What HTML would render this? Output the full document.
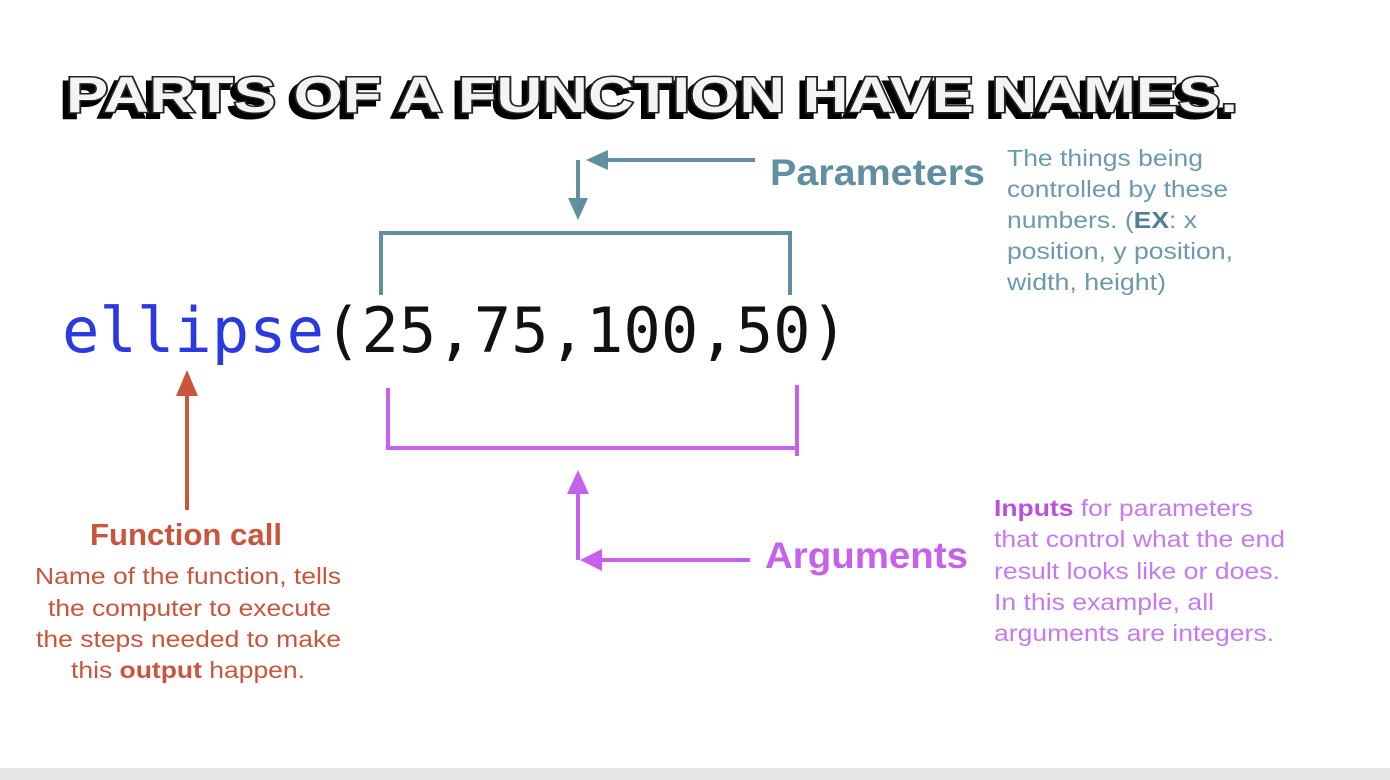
<!DOCTYPE html>
<html><head><meta charset="utf-8"><style>
body{margin:0;background:#fff;}
svg{display:block}
</style></head><body>
<svg width="1390" height="780" viewBox="0 0 1390 780" xmlns="http://www.w3.org/2000/svg" font-family="Liberation Sans, sans-serif">
<rect width="1390" height="780" fill="#fff"/>
<rect x="0" y="768" width="1390" height="12" fill="#e6e6e6"/>
<!-- title -->
<text x="66" y="112" font-size="50" font-weight="bold" textLength="1172" lengthAdjust="spacingAndGlyphs" fill="#000" stroke="#000" stroke-width="4" transform="translate(-5,5)">PARTS OF A FUNCTION HAVE NAMES.</text>
<text x="66" y="112" font-size="50" font-weight="bold" textLength="1172" lengthAdjust="spacingAndGlyphs" fill="#f4f4f4" stroke="#222" stroke-width="3" paint-order="stroke">PARTS OF A FUNCTION HAVE NAMES.</text>
<!-- code -->
<text x="62" y="352" font-family="DejaVu Sans Mono, monospace" font-size="62" textLength="786" lengthAdjust="spacingAndGlyphs"><tspan fill="#2a3ae0">ellipse</tspan><tspan fill="#111">(25,75,100,50)</tspan></text>
<!-- parameters -->
<g stroke="#5f8fa0" stroke-width="4" fill="none">
<polyline points="381,295 381,233 790,233 790,295"/>
<line x1="755" y1="160" x2="600" y2="160"/>
<line x1="578" y1="160" x2="578" y2="200"/>
</g>
<polygon points="586,160 608,150 608,170" fill="#5f8fa0"/>
<polygon points="568,198 588,198 578,220" fill="#5f8fa0"/>
<text x="770" y="185" font-size="37" font-weight="bold" fill="#5f8fa0" textLength="215" lengthAdjust="spacingAndGlyphs">Parameters</text>
<g font-size="23" fill="#6b9aac" lengthAdjust="spacingAndGlyphs">
<text x="1007" y="166" textLength="196" lengthAdjust="spacingAndGlyphs">The things being</text>
<text x="1007" y="197" textLength="221" lengthAdjust="spacingAndGlyphs">controlled by these</text>
<text x="1007" y="228" textLength="190" lengthAdjust="spacingAndGlyphs">numbers. (<tspan font-weight="bold" fill="#4f7f90">EX</tspan>: x</text>
<text x="1007" y="259" textLength="226" lengthAdjust="spacingAndGlyphs">position, y position,</text>
<text x="1007" y="290" textLength="159" lengthAdjust="spacingAndGlyphs">width, height)</text>
</g>
<!-- arguments -->
<g stroke="#c760ea" stroke-width="4" fill="none">
<polyline points="388,388 388,448 797,448"/>
<line x1="797" y1="385" x2="797" y2="456"/>
<line x1="578" y1="560" x2="578" y2="490"/>
<line x1="750" y1="560" x2="596" y2="560"/>
</g>
<polygon points="578,470 567,494 589,494" fill="#c760ea"/>
<polygon points="580,560 602,549 602,571" fill="#c760ea"/>
<text x="765" y="568" font-size="37" font-weight="bold" fill="#c760ea" textLength="203" lengthAdjust="spacingAndGlyphs">Arguments</text>
<g font-size="23" fill="#c77aed">
<text x="994" y="516" textLength="259" lengthAdjust="spacingAndGlyphs"><tspan font-weight="bold" fill="#b850e0">Inputs</tspan> for parameters</text>
<text x="994" y="547" textLength="291" lengthAdjust="spacingAndGlyphs">that control what the end</text>
<text x="994" y="579" textLength="286" lengthAdjust="spacingAndGlyphs">result looks like or does.</text>
<text x="994" y="610" textLength="220" lengthAdjust="spacingAndGlyphs">In this example, all</text>
<text x="994" y="641" textLength="280" lengthAdjust="spacingAndGlyphs">arguments are integers.</text>
</g>
<!-- function call -->
<line x1="187" y1="510" x2="187" y2="392" stroke="#c8553c" stroke-width="4"/>
<polygon points="187,370 176,396 198,396" fill="#c8553c"/>
<text x="90" y="545" font-size="31" font-weight="bold" fill="#c8553c" textLength="192" lengthAdjust="spacingAndGlyphs">Function call</text>
<g font-size="23" fill="#c8553c">
<text x="35" y="584" textLength="306" lengthAdjust="spacingAndGlyphs">Name of the function, tells</text>
<text x="48" y="616" textLength="283" lengthAdjust="spacingAndGlyphs">the computer to execute</text>
<text x="36" y="647" textLength="305" lengthAdjust="spacingAndGlyphs">the steps needed to make</text>
<text x="71" y="678" textLength="234" lengthAdjust="spacingAndGlyphs">this <tspan font-weight="bold">output</tspan> happen.</text>
</g>
</svg>
</body></html>
